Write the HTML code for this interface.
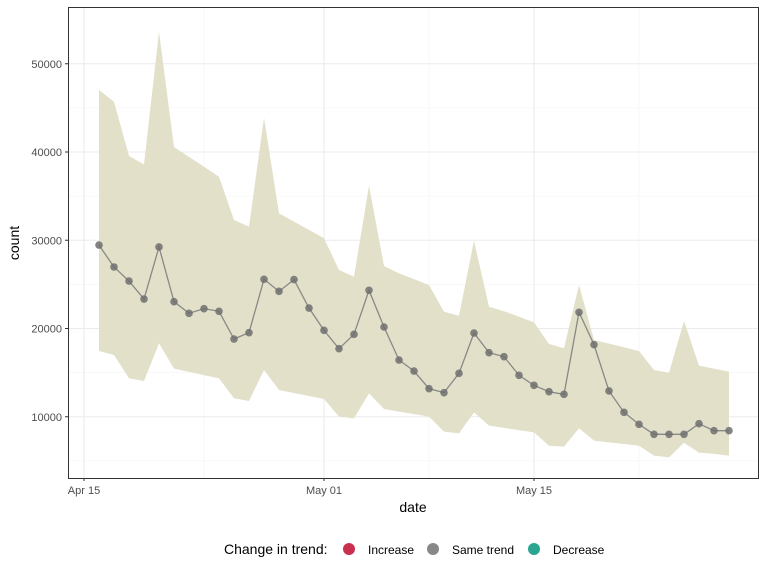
<!DOCTYPE html>
<html><head><meta charset="utf-8"><style>
body{margin:0;background:#fff;font-family:"Liberation Sans",sans-serif;}
</style></head><body>
<svg id="chart" width="768" height="576" xmlns="http://www.w3.org/2000/svg">
<g id="grid"></g>
<g id="band"></g>
<g id="series"></g>
<rect x="68.5" y="7.5" width="690" height="471" fill="none" stroke="#333" stroke-width="1"/>
<g id="axes"></g>
<text x="413" y="512" font-size="14" text-anchor="middle" fill="#000">date</text>
<text x="19" y="243" font-size="14" text-anchor="middle" fill="#000" transform="rotate(-90 19 243)">count</text>
<g>
<text x="224" y="554" font-size="14" fill="#000">Change in trend:</text>
<g><circle cx="349" cy="549" r="6" fill="#c9304f"/><text x="368" y="554" font-size="12" fill="#000">Increase</text></g>
<g><circle cx="433" cy="549" r="6" fill="#888"/><text x="452" y="554" font-size="12" fill="#000">Same trend</text></g>
<g><circle cx="534" cy="549" r="6" fill="#2aa58f"/><text x="553" y="554" font-size="12" fill="#000">Decrease</text></g>
</g>
</svg>
<script>
const startDay = 1; // day offset from Apr 15
const counts = [29450,26970,25380,23340,29240,23040,21720,22250,21950,18810,19530,25580,24210,25540,22320,19790,17710,19340,24330,20170,16430,15180,13180,12730,14920,19490,17260,16810,14700,13560,12840,12540,21840,18170,12920,10500,9140,8010,8010,8010,9210,8420,8420];
const upper = [47030,45700,39550,38600,53630,40570,39450,38330,37200,32290,31540,43890,33050,32110,31170,30220,26630,25870,36180,27080,26250,25590,24930,21900,21450,29950,22470,21960,21330,20700,18240,17760,24930,18700,18280,17870,17450,15300,14990,20850,15790,15450,15100];
const lower = [17450,17000,14350,14050,18320,15450,15080,14720,14350,12090,11780,15300,13030,12690,12350,12010,10010,9820,12650,10880,10580,10300,10010,8310,8120,10500,8990,8740,8480,8230,6720,6610,8690,7290,7100,6910,6720,5590,5400,7060,5930,5800,5590];
const yTicks = [10000,20000,30000,40000,50000];
const yMinor = [5000,15000,25000,35000,45000];
const xTickLabels = ["Apr 15","May 01","May 15"];
const xTickDays = [0,16,30];
const xMinorDays = [8,23,37];

const NS="http://www.w3.org/2000/svg";
function X(d){return 84+15*d;}
function Y(v){return 505-v*0.008825;}
function mk(tag,attrs,parent){const e=document.createElementNS(NS,tag);for(const k in attrs)e.setAttribute(k,attrs[k]);parent.appendChild(e);return e;}
const grid=document.getElementById('grid'),band=document.getElementById('band'),series=document.getElementById('series'),axes=document.getElementById('axes');
yMinor.forEach(v=>{const l=mk('line',{x1:68,x2:758,y1:Y(v),y2:Y(v),stroke:'#f2f2f2','stroke-width':0.6},grid);

});
xMinorDays.forEach(d=>{const l=mk('line',{x1:X(d),x2:X(d),y1:7,y2:478,stroke:'#f2f2f2','stroke-width':0.6},grid);

});
yTicks.forEach(v=>{const l=mk('line',{x1:68,x2:758,y1:Y(v),y2:Y(v),stroke:'#ebebeb','stroke-width':1.1},grid);


const t=mk('line',{x1:65,x2:68,y1:Y(v),y2:Y(v),stroke:'#333'},axes);


const tx=mk('text',{x:62,y:Y(v)+4,'font-size':11,'text-anchor':'end',fill:'#4d4d4d'},axes);tx.textContent=v;

});
xTickDays.forEach((d,i)=>{const l=mk('line',{x1:X(d),x2:X(d),y1:7,y2:478,stroke:'#ebebeb','stroke-width':1.1},grid);


const t=mk('line',{x1:X(d),x2:X(d),y1:478,y2:481,stroke:'#333'},axes);


const tx=mk('text',{x:X(d),y:494,'font-size':11,'text-anchor':'middle',fill:'#4d4d4d'},axes);tx.textContent=xTickLabels[i];

});
let pts=upper.map((v,i)=>X(startDay+i)+','+Y(v));
for(let i=lower.length-1;i>=0;i--)pts.push(X(startDay+i)+','+Y(lower[i]));
const poly=mk('polygon',{points:pts.join(' '),fill:'#e2e0c9'},band);


const line=mk('polyline',{points:counts.map((v,i)=>X(startDay+i)+','+Y(v)).join(' '),fill:'none',stroke:'#888','stroke-width':1.3},series);


counts.forEach((v,i)=>{const c=mk('circle',{cx:X(startDay+i),cy:Y(v),r:3.8,fill:'#6e6e6e','fill-opacity':0.85},series);

});
</script>
</body></html>
